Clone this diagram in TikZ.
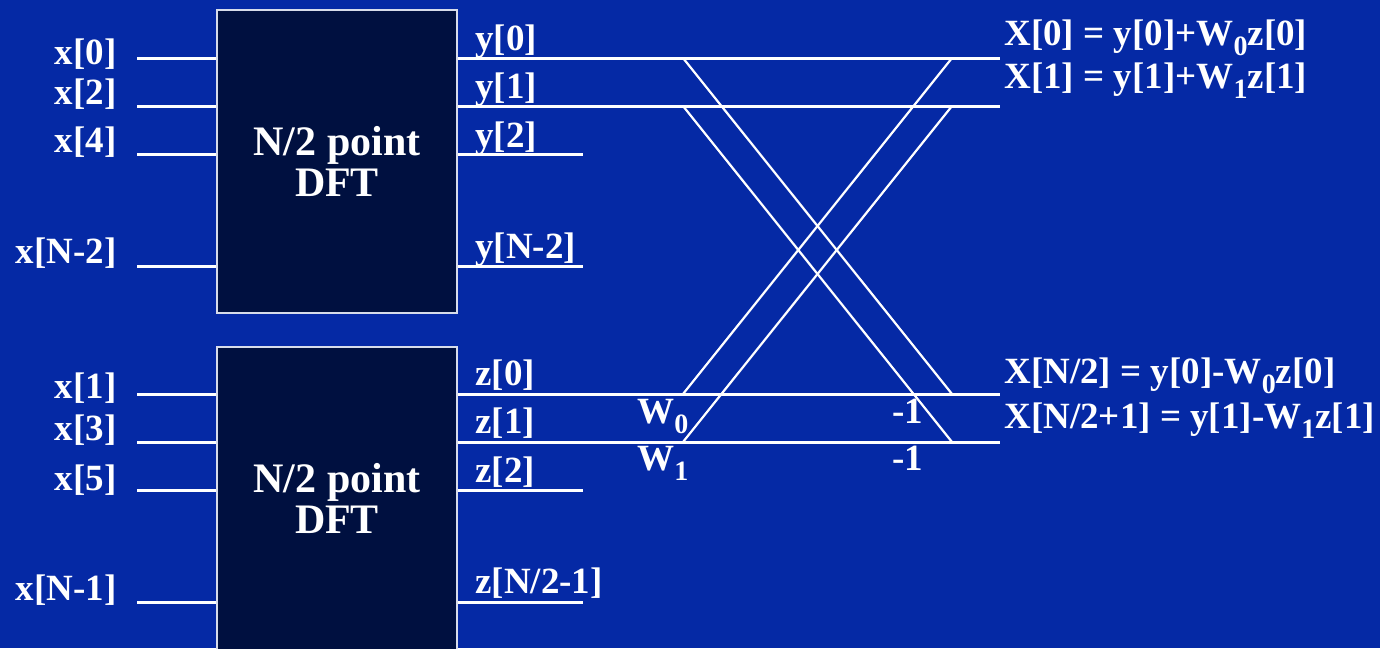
\documentclass[tikz,border=0pt]{standalone}
\usepackage{fontspec}
\setmainfont{Liberation Serif}
\usetikzlibrary{positioning,calc}
\definecolor{slideblue}{RGB}{5,41,165}
\definecolor{boxnavy}{RGB}{0,16,64}
\definecolor{boxedge}{RGB}{215,220,235}
\newcommand{\lowsub}[1]{\raisebox{-0.28em}{\fontsize{14}{14}\selectfont #1}}
\tikzset{
  dftbox/.style={rectangle, draw=boxedge, fill=boxnavy, line width=1pt,
                 minimum width=120pt, minimum height=151.5pt, align=center, text=white,
                 font=\fontsize{21}{20.5}\selectfont\bfseries},
  sig/.style   ={text=white, font=\fontsize{18.5}{20}\selectfont\bfseries, inner sep=0pt},
  wire/.style  ={draw=white, line width=1.5pt},
  cross/.style ={draw=white, line width=1.1pt},
}
\begin{document}
\begin{tikzpicture}[x=0.5pt,y=-0.5pt]
\useasboundingbox[fill=slideblue] (0,0) rectangle (1380,648);
\begin{scope}
\clip (0,0) rectangle (1380,648);
% the two half size transforms
\node[dftbox] (dfteven) at (337,161.5) {N/2 point\\DFT};
\node[dftbox] (dftodd)  at (337,498.5) {N/2 point\\DFT};

% input wires
\coordinate (in0) at (137,58);  \coordinate (in2) at (137,106);
\coordinate (in4) at (137,154); \coordinate (inN2) at (137,266);
\coordinate (in1) at (137,394); \coordinate (in3) at (137,442);
\coordinate (in5) at (137,490); \coordinate (inN1) at (137,602);
\draw[wire] (in0) -- (in0 -| dfteven.west);
\draw[wire] (in2) -- (in2 -| dfteven.west);
\draw[wire] (in4) -- (in4 -| dfteven.west);
\draw[wire] (inN2) -- (inN2 -| dfteven.west);
\draw[wire] (in1) -- (in1 -| dftodd.west);
\draw[wire] (in3) -- (in3 -| dftodd.west);
\draw[wire] (in5) -- (in5 -| dftodd.west);
\draw[wire] (inN1) -- (inN1 -| dftodd.west);

\node[sig, anchor=base east] (lx0) at (117,64)  {x[0]};
\node[sig, anchor=base east] (lx2) at (117,104) {x[2]};
\node[sig, anchor=base east] (lx4) at (117,152) {x[4]};
\node[sig, anchor=base east] (lxN2) at (117,263) {x[N-2]};
\node[sig, anchor=base east] (lx1) at (117,398) {x[1]};
\node[sig, anchor=base east] (lx3) at (117,440) {x[3]};
\node[sig, anchor=base east] (lx5) at (117,490) {x[5]};
\node[sig, anchor=base east] (lxN1) at (117,600) {x[N-1]};

% output wires
\coordinate (y0) at (1000,58);  \coordinate (y1) at (1000,106);
\coordinate (y2) at (583,154);  \coordinate (yN2) at (583,266);
\coordinate (z0) at (1000,394); \coordinate (z1) at (1000,442);
\coordinate (z2) at (583,490);  \coordinate (zN) at (583,602);
\draw[wire] (y0 -| dfteven.east) -- (y0);
\draw[wire] (y1 -| dfteven.east) -- (y1);
\draw[wire] (y2 -| dfteven.east) -- (y2);
\draw[wire] (yN2 -| dfteven.east) -- (yN2);
\draw[wire] (z0 -| dftodd.east) -- (z0);
\draw[wire] (z1 -| dftodd.east) -- (z1);
\draw[wire] (z2 -| dftodd.east) -- (z2);
\draw[wire] (zN -| dftodd.east) -- (zN);

\node[sig, anchor=base west] (ly0) at (475,50)  {y[0]};
\node[sig, anchor=base west] (ly1) at (475,98)  {y[1]};
\node[sig, anchor=base west] (ly2) at (475,147) {y[2]};
\node[sig, anchor=base west] (lyN2) at (475,258) {y[N-2]};
\node[sig, anchor=base west] (lz0) at (475,385) {z[0]};
\node[sig, anchor=base west] (lz1) at (475,433) {z[1]};
\node[sig, anchor=base west] (lz2) at (475,482) {z[2]};
\node[sig, anchor=base west] (lzN) at (475,593) {z[N/2-1]};

% butterflies
\coordinate (ty0) at (683,58);  \coordinate (ty1) at (683,106);
\coordinate (tz0) at (683,394); \coordinate (tz1) at (683,442);
\coordinate (hy0) at (952,58);  \coordinate (hy1) at (952,106);
\coordinate (hz0) at (952,394); \coordinate (hz1) at (952,442);
\draw[cross] (ty0) -- (hz0);
\draw[cross] (ty1) -- (hz1);
\draw[cross] (tz0) -- (hy0);
\draw[cross] (tz1) -- (hy1);

\node[sig, anchor=base west] (tw0) at (637,423) {W\lowsub{0}};
\node[sig, anchor=base west] (tw1) at (637,470) {W\lowsub{1}};
\node[sig, anchor=base west] (neg0) at (892,423) {-1};
\node[sig, anchor=base west] (neg1) at (892,470) {-1};

% results
\node[sig, anchor=base west] (rX0) at (1004,45)  {X[0] = y[0]+W\lowsub{0}z[0]};
\node[sig, anchor=base west] (rX1) at (1004,88)  {X[1] = y[1]+W\lowsub{1}z[1]};
\node[sig, anchor=base west] (rXh) at (1004,383) {X[N/2] = y[0]-W\lowsub{0}z[0]};
\node[sig, anchor=base west] (rXh1) at (1004,428) {X[N/2+1] = y[1]-W\lowsub{1}z[1]};
\end{scope}
\end{tikzpicture}
\end{document}
